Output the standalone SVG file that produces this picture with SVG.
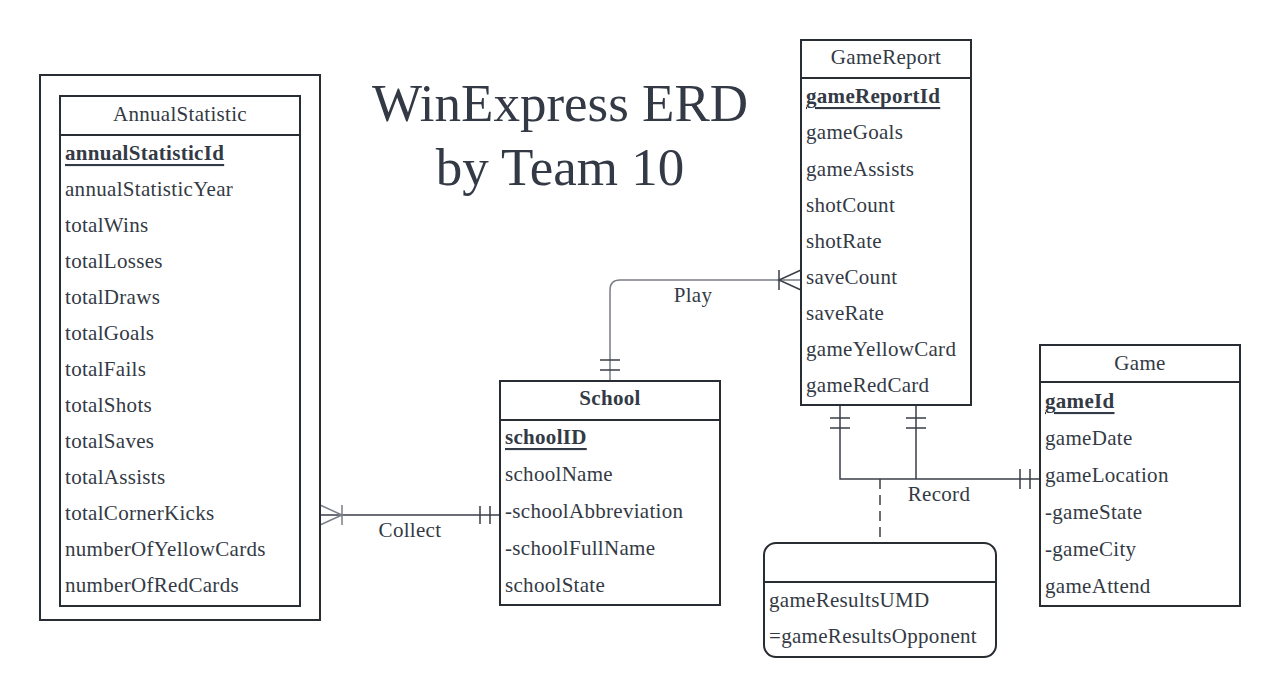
<svg xmlns="http://www.w3.org/2000/svg" width="1280" height="697" viewBox="0 0 1280 697">
<style>
.box{fill:#fff;stroke:#282c33;stroke-width:2}
.sep{stroke:#282c33;stroke-width:2}
.t{font-family:"Liberation Serif","DejaVu Serif",serif;font-size:21px;letter-spacing:0.3px;fill:#333a45;dominant-baseline:central}
.h{text-anchor:middle}
.pk{font-weight:bold;text-decoration:underline}
.title{font-family:"Liberation Serif","DejaVu Serif",serif;font-size:53px;fill:#333a45;text-anchor:middle;dominant-baseline:central}
.ln{fill:none;stroke:#3a3f47;stroke-width:1.5}
.lg{fill:none;stroke:#7a7f87;stroke-width:1.5}
.dash{fill:none;stroke:#3a3f47;stroke-width:1.5;stroke-dasharray:10,6}
</style>
<rect width="1280" height="697" fill="#fff"/>
<g id="title">
<text class="title" x="560" y="103">WinExpress ERD</text>
<text class="title" x="560" y="167">by Team 10</text>
</g>
<g id="connectors">
<path class="ln" d="M320,515 H500"/>
<path class="lg" d="M320,505 L342,515 L320,525 M342,505 V525"/>
<path class="ln" d="M480,506 V524 M490,506 V524"/>
<text class="t h" x="410" y="530">Collect</text>
<path class="lg" d="M801,280 H620 Q610,280 610,290 V381"/>
<path class="ln" d="M801,270 L779,280 L801,290 M779,270 V290"/>
<path class="ln" d="M600,360 H620 M600,370 H620"/>
<text class="t h" x="693" y="295">Play</text>
<path class="ln" d="M840,405 V479 H1040 M916,405 V479"/>
<path class="ln" d="M830,418 H850 M830,428 H850 M906,418 H926 M906,428 H926"/>
<path class="ln" d="M1020,469 V489 M1030,469 V489"/>
<path class="dash" d="M880,479 V543"/>
<text class="t h" x="939" y="494">Record</text>
</g>
<g id="annualStatistic">
<rect class="box" x="40" y="75" width="280" height="545"/>
<rect class="box" x="60" y="96" width="240" height="510"/>
<line class="sep" x1="60" y1="135" x2="300" y2="135"/>
<text class="t h" x="180" y="114">AnnualStatistic</text>
<text class="t pk" x="65" y="153">annualStatisticId</text>
<text class="t" x="65" y="189">annualStatisticYear</text>
<text class="t" x="65" y="225">totalWins</text>
<text class="t" x="65" y="261">totalLosses</text>
<text class="t" x="65" y="297">totalDraws</text>
<text class="t" x="65" y="333">totalGoals</text>
<text class="t" x="65" y="369">totalFails</text>
<text class="t" x="65" y="405">totalShots</text>
<text class="t" x="65" y="441">totalSaves</text>
<text class="t" x="65" y="477">totalAssists</text>
<text class="t" x="65" y="513">totalCornerKicks</text>
<text class="t" x="65" y="549">numberOfYellowCards</text>
<text class="t" x="65" y="585">numberOfRedCards</text>
</g>
<g id="school">
<rect class="box" x="500" y="381" width="220" height="224"/>
<line class="sep" x1="500" y1="420" x2="720" y2="420"/>
<text class="t h" x="610" y="398" font-weight="bold">School</text>
<text class="t pk" x="505" y="437">schoolID</text>
<text class="t" x="505" y="474">schoolName</text>
<text class="t" x="505" y="511">-schoolAbbreviation</text>
<text class="t" x="505" y="548">-schoolFullName</text>
<text class="t" x="505" y="585">schoolState</text>
</g>
<g id="gameReport">
<rect class="box" x="801" y="40" width="170" height="365"/>
<line class="sep" x1="801" y1="78" x2="971" y2="78"/>
<text class="t h" x="886" y="57">GameReport</text>
<text class="t pk" x="806" y="96">gameReportId</text>
<text class="t" x="806" y="132">gameGoals</text>
<text class="t" x="806" y="169">gameAssists</text>
<text class="t" x="806" y="205">shotCount</text>
<text class="t" x="806" y="241">shotRate</text>
<text class="t" x="806" y="277">saveCount</text>
<text class="t" x="806" y="313">saveRate</text>
<text class="t" x="806" y="349">gameYellowCard</text>
<text class="t" x="806" y="385">gameRedCard</text>
</g>
<g id="game">
<rect class="box" x="1040" y="345" width="200" height="261"/>
<line class="sep" x1="1040" y1="382" x2="1240" y2="382"/>
<text class="t h" x="1140" y="363">Game</text>
<text class="t pk" x="1045" y="401">gameId</text>
<text class="t" x="1045" y="438">gameDate</text>
<text class="t" x="1045" y="475">gameLocation</text>
<text class="t" x="1045" y="512">-gameState</text>
<text class="t" x="1045" y="549">-gameCity</text>
<text class="t" x="1045" y="586">gameAttend</text>
</g>
<g id="gameResults">
<rect class="box" x="764" y="543" width="232" height="114" rx="12"/>
<line class="sep" x1="764" y1="582" x2="996" y2="582"/>
<text class="t" x="769" y="600">gameResultsUMD</text>
<text class="t" x="769" y="636">=gameResultsOpponent</text>
</g>
</svg>
